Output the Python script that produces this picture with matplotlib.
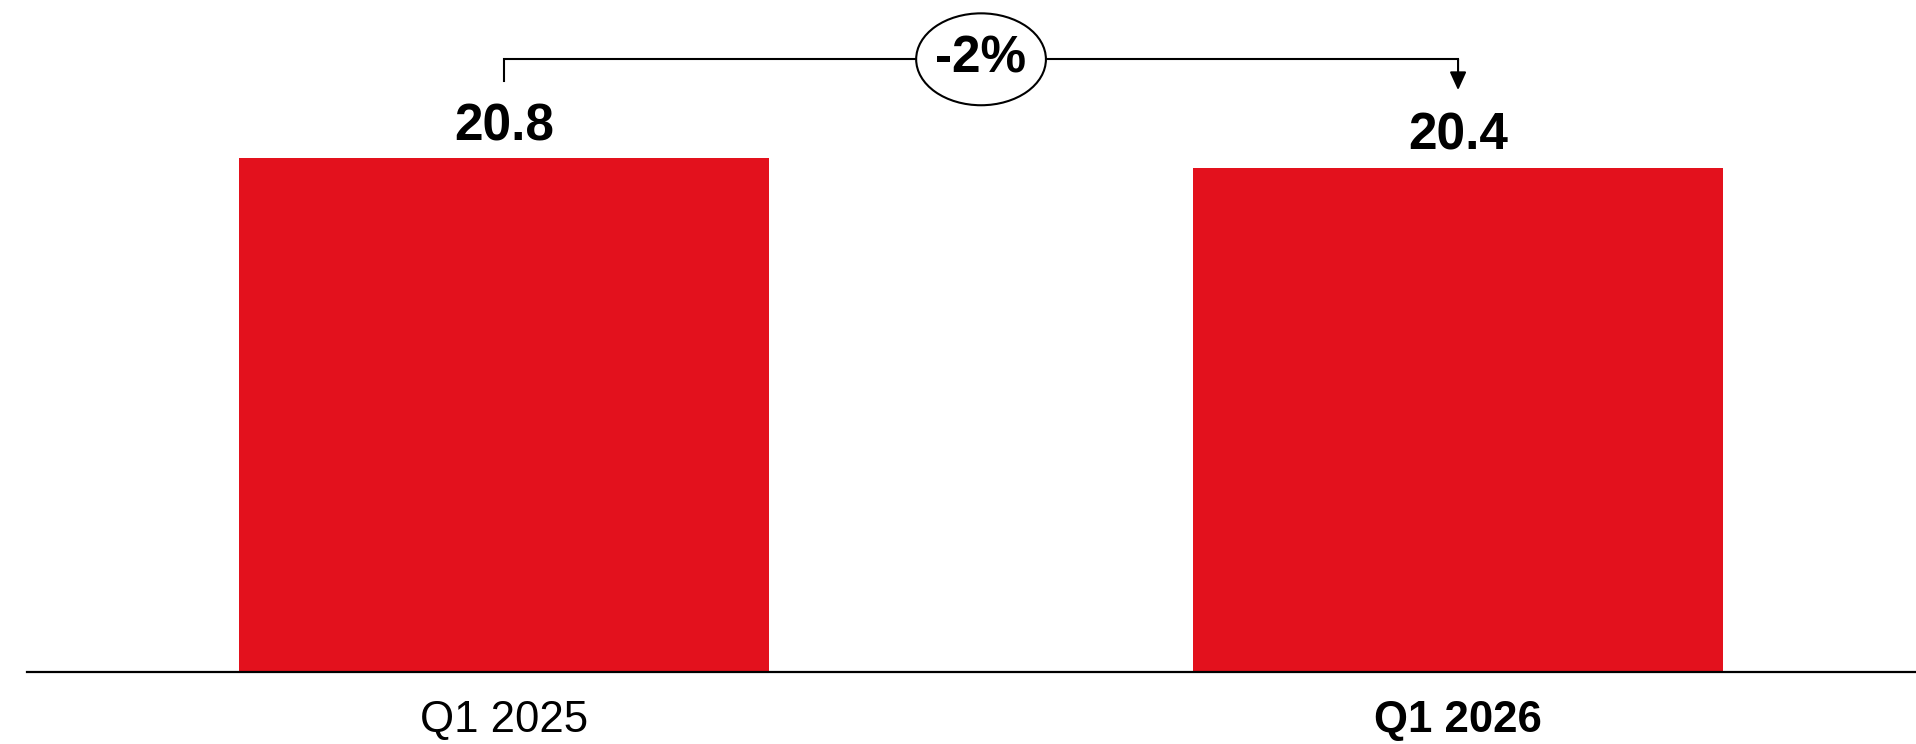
import matplotlib
matplotlib.use("Agg")
import matplotlib.pyplot as plt
from matplotlib.patches import Ellipse

plt.rcParams['font.family'] = ['Liberation Sans', 'DejaVu Sans']

categories = ["Q1 2025", "Q1 2026"]
values = [20.8, 20.4]
change_label = "-2%"

BAR_COLOR = "#E3111D"

W, H = 1916, 744
fig = plt.figure(figsize=(W / 100, H / 100), dpi=100)
ax = fig.add_axes([27 / W, 1 - 672 / H, 1 - 27 / W, 672 / H])

x = list(range(len(categories)))
ax.bar(x, values, width=0.555, color=BAR_COLOR, zorder=2)

ax.set_xlim(-0.5, 1.48)
ax.set_ylim(0, 27.2)

# value labels above each bar
for xi, v in zip(x, values):
    ax.annotate(f"{v:.1f}", xy=(xi, v), xytext=(0, 13), textcoords="offset points",
                ha="center", va="baseline", fontsize=37, fontweight="bold")

# axis styling
for side in ("top", "right", "left"):
    ax.spines[side].set_visible(False)
ax.spines["bottom"].set_linewidth(1.6)
ax.spines["bottom"].set_color("black")
ax.set_yticks([])
ax.set_xticks(x)
ax.set_xticklabels(categories, fontsize=31.5)
ax.get_xticklabels()[-1].set_fontweight("bold")
ax.tick_params(axis="x", length=0, pad=20)

# change bracket from the first bar to the second
top = max(values) + 4.0
left_bottom = values[0] + 3.12
right_tip = values[1] + 3.15
ax.plot([x[0], x[0], x[1]], [left_bottom, top, top], color="black", lw=1.5,
        solid_joinstyle="miter", zorder=3)
ax.annotate("", xy=(x[1], right_tip), xytext=(x[1], top),
            arrowprops=dict(arrowstyle="-|>,head_length=0.55,head_width=0.25",
                            color="black", lw=1.5, mutation_scale=20,
                            shrinkA=0, shrinkB=0), zorder=3)

mid = (x[0] + x[1]) / 2
ax.add_patch(Ellipse((mid, top), width=0.136, height=3.72, facecolor="white",
                     edgecolor="black", lw=1.5, zorder=4))
ax.text(mid, top, change_label, ha="center", va="center", fontsize=37,
        fontweight="bold", zorder=5)

fig.savefig("out.png", dpi=100, facecolor="white")
